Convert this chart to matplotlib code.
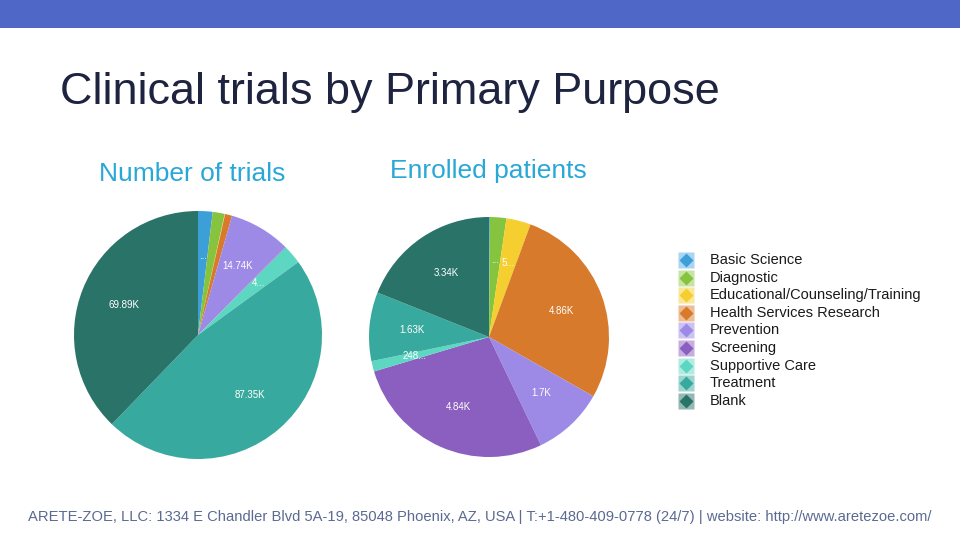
import matplotlib.pyplot as plt
from matplotlib.patches import Rectangle

plt.rcParams['font.family'] = ['Liberation Sans', 'DejaVu Sans']

# data (thousands)
purposes = ['Basic Science', 'Diagnostic', 'Educational/Counseling/Training',
            'Health Services Research', 'Prevention', 'Screening',
            'Supportive Care', 'Treatment', 'Blank']
colors = ['#3c9fd8', '#86c440', '#f4cf2f', '#d87a2c', '#9c8ae6',
          '#8b5fbf', '#5dd7c2', '#38a99e', '#2a7369']
light = ['#a9d5f0', '#c6e4a3', '#f9e79a', '#eebd93', '#cdc3f3',
         '#c6afe0', '#b1ece1', '#9cd4cf', '#94b9b4']

trials = [3.5, 2.9, 0.1, 1.7, 14.74, 0.2, 4.6, 87.35, 69.89]
trial_labels = ['...', '', '', '', '14.74K', '', '4...', '87.35K', '69.89K']

patients = [0.02, 0.39, 0.58, 4.86, 1.7, 4.84, 0.248, 1.63, 3.34]
patient_labels = ['', '...', '5...', '4.86K', '1.7K', '4.84K', '248...', '1.63K', '3.34K']

W, H = 960, 540
fig = plt.figure(figsize=(9.6, 5.4), dpi=100)
fig.patch.set_facecolor('white')

# background / overlay axes in pixel coords
bg = fig.add_axes([0, 0, 1, 1])
bg.set_xlim(0, W)
bg.set_ylim(H, 0)
bg.axis('off')
bg.add_patch(Rectangle((0, 0), W, 28, color='#4f68c8', lw=0))

bg.text(60, 104, 'Clinical trials by Primary Purpose', fontsize=32.4,
        color='#1e2440', va='baseline', ha='left')
bg.text(192, 181, 'Number of trials', fontsize=19, color='#29a8d8',
        ha='center', va='baseline')
bg.text(488, 178, 'Enrolled patients', fontsize=19, color='#29a8d8',
        ha='center', va='baseline')
bg.text(480, 521, 'ARETE-ZOE, LLC: 1334 E Chandler Blvd 5A-19, 85048 Phoenix, AZ, USA | '
        'T:+1-480-409-0778 (24/7) | website: http://www.aretezoe.com/',
        fontsize=10.6, color='#5a6a90', ha='center', va='baseline')


def pie_at(cx, cy, r, vals, labs):
    ax = fig.add_axes([(cx - r) / W, (H - cy - r) / H, 2 * r / W, 2 * r / H])
    ax.pie(vals, colors=colors, startangle=90, counterclock=False,
           labels=labs, labeldistance=0.64, radius=1,
           textprops=dict(color='white', fontsize=7, ha='center', va='center'))
    ax.set_xlim(-1, 1)
    ax.set_ylim(-1, 1)
    ax.set_aspect('equal')
    return ax


pie_at(198, 335, 124, trials, trial_labels)
pie_at(489, 337, 120, patients, patient_labels)

# legend
for i, name in enumerate(purposes):
    y = 260 + i * 17.6
    bg.plot(686, y, marker='s', ms=11, color=light[i], mec='none')
    bg.plot(686, y, marker='D', ms=7, color=colors[i], mec='none')
    bg.text(710, y, name, fontsize=10.5, color='#1a1a1a', va='center', ha='left')

bg.set_zorder(-1)
fig.savefig('out.png', dpi=100)
